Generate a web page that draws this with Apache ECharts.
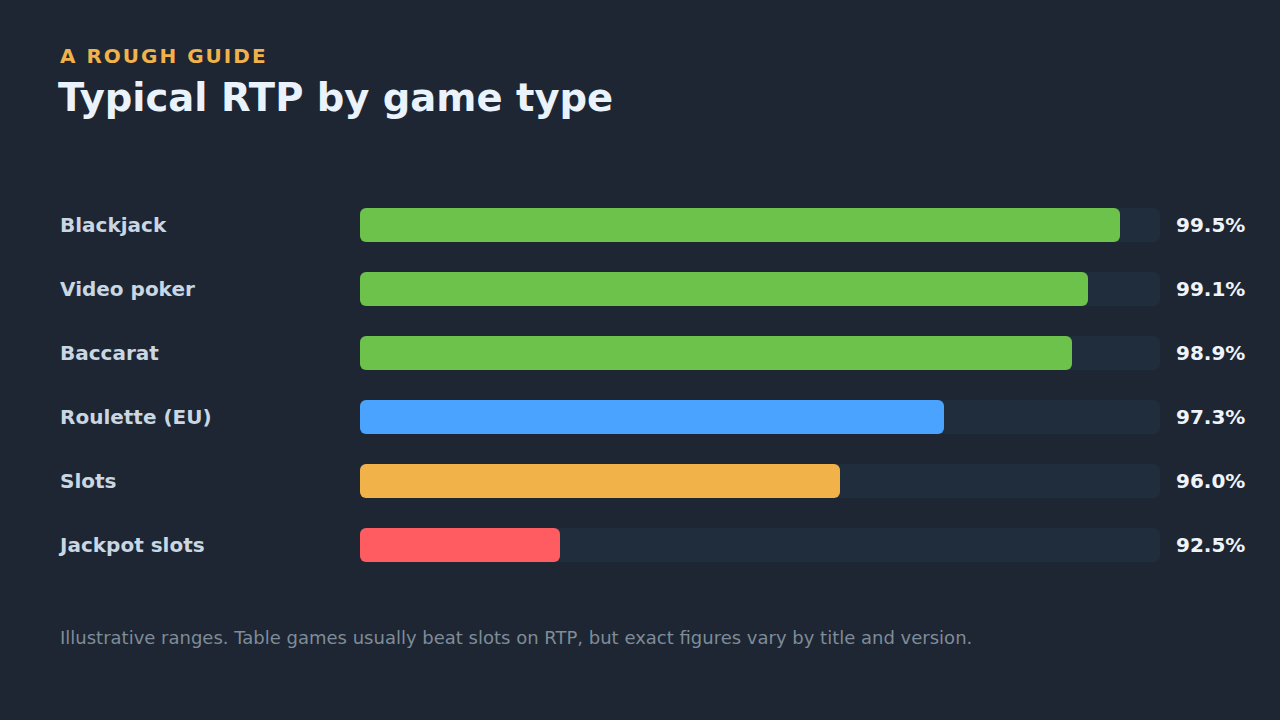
<!DOCTYPE html>
<html>
<head>
<meta charset="utf-8">
<script src="https://cdn.jsdelivr.net/npm/echarts@6/dist/echarts.min.js"></script>
<style>
html,body{margin:0;padding:0;background:#1d2632;}
#c{width:1280px;height:720px;}
</style>
</head>
<body>
<div id="c"></div>
<script>
var categories = ['Blackjack', 'Video poker', 'Baccarat', 'Roulette (EU)', 'Slots', 'Jackpot slots'];
var rtpValues = [99.5, 99.1, 98.9, 97.3, 96.0, 92.5];
var barColors = ['#6cc24a', '#6cc24a', '#6cc24a', '#4aa3ff', '#f2b24a', '#ff5c61'];
var axisMin = 90;
var axisMax = 100;

var valueLabels = rtpValues.map(function (v) { return v.toFixed(1) + '%'; });
var kicker = 'A ROUGH GUIDE';

var chart = echarts.init(document.getElementById('c'), null, { renderer: 'svg' });
chart.setOption({
  backgroundColor: '#1d2632',
  animation: false,
  graphic: [
    { type: 'text', left: 60, top: 46, style: { text: kicker, fill: '#f0b24a', font: 'bold 20px "DejaVu Sans"' } },
    { type: 'text', left: 58, top: 78, style: { text: 'Typical RTP by game type', fill: '#eaf2fb', font: 'bold 38.5px "DejaVu Sans"' } },
    { type: 'text', left: 60, top: 628, style: { text: 'Illustrative ranges. Table games usually beat slots on RTP, but exact figures vary by title and version.', fill: '#7f8c99', font: '18px "DejaVu Sans"' } }
  ],
  grid: { left: 360, right: 120, top: 193, height: 384 },
  xAxis: {
    type: 'value', min: axisMin, max: axisMax, startValue: axisMin,
    show: false, splitLine: { show: false }
  },
  yAxis: [
    {
      type: 'category', data: categories, inverse: true,
      axisLine: { show: false }, axisTick: { show: false },
      axisLabel: {
        align: 'left', margin: 300, color: '#c9d6e3',
        fontFamily: 'DejaVu Sans', fontWeight: 'bold', fontSize: 20,
        padding: [0, 0, 9, 0]
      }
    },
    {
      type: 'category', data: valueLabels, inverse: true, position: 'right',
      axisLine: { show: false }, axisTick: { show: false },
      axisLabel: {
        align: 'left', margin: 16, color: '#eef4fb',
        fontFamily: 'DejaVu Sans', fontWeight: 'bold', fontSize: 20,
        padding: [2, 0, 0, 0]
      }
    }
  ],
  series: [{
    type: 'bar',
    yAxisIndex: 0,
    barWidth: 34,
    data: rtpValues.map(function (v, i) {
      return { value: v, itemStyle: { color: barColors[i] } };
    }),
    itemStyle: { borderRadius: 6 },
    showBackground: true,
    backgroundStyle: { color: '#1f2d3d', borderRadius: 6 }
  }]
});

function spaceKicker() {
  var texts = document.querySelectorAll('#c text');
  for (var i = 0; i < texts.length; i++) {
    if (texts[i].textContent === kicker) {
      texts[i].setAttribute('letter-spacing', '2');
      texts[i].style.letterSpacing = '2px';
    }
  }
}
spaceKicker();
chart.on('finished', spaceKicker);
</script>
</body>
</html>
